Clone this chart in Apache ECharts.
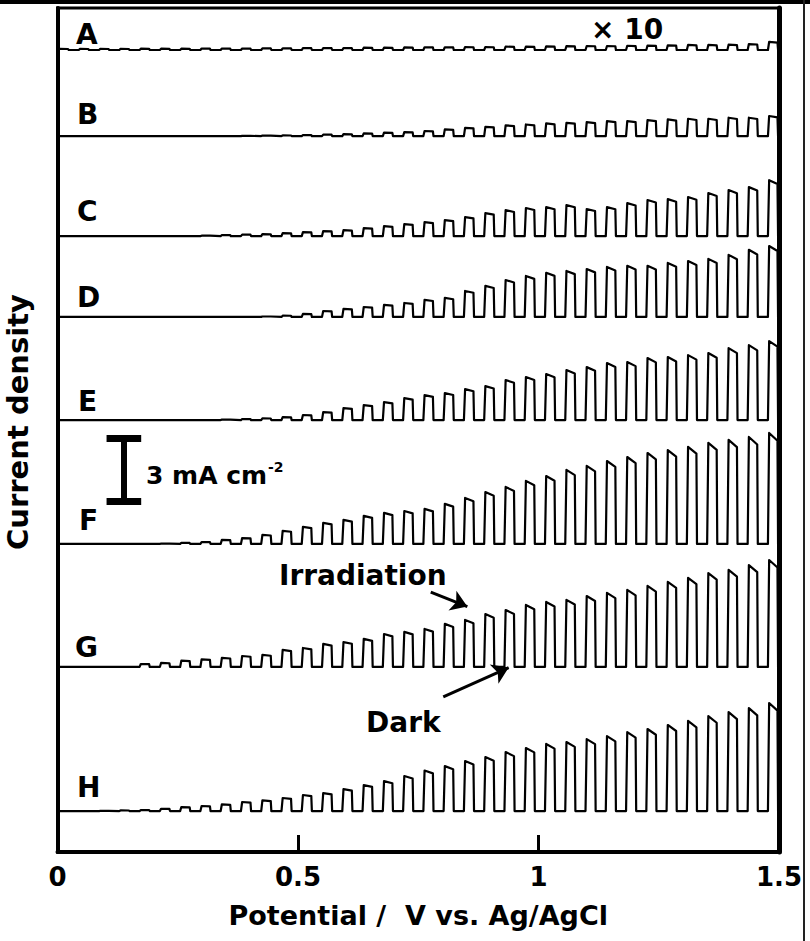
<!DOCTYPE html>
<html><head><meta charset="utf-8">
<script src="https://cdn.jsdelivr.net/npm/echarts@6.0.0/dist/echarts.min.js"></script>
<style>html,body{margin:0;padding:0;background:#fff}#c{width:810px;height:941px}</style>
</head><body><div id="c"></div>
<script>
// ===================== DATA =====================
const traceNames = ['A','B','C','D','E','F','G','H'];
const xTickLabels = ['0','0.5','1','1.5'];
const potentialMin = 0, potentialMax = 1.5;
// chopped light: one on/off cycle in volts, and the start of the last light-on step
const chopPeriodV = 0.04214;
const lastLightOnV = 1.477;
// photocurrent of each light pulse (mA cm-2), first pulse to last
const ampA = [0.005,0.005,0.005,0.005,0.006,0.006,0.006,0.007,0.007,0.007,0.008,0.008,0.009,0.009,0.009,0.011,0.011,0.012,0.013,0.013,0.014,0.014,0.016,0.016,0.017,0.018,0.019,0.019,0.020,0.021,0.022,0.024,0.024,0.025,0.028,0.038];
const ampB = [0,0,0,0,0,0,0,0,0,0.01,0.02,0.03,0.05,0.07,0.09,0.13,0.16,0.19,0.24,0.32,0.39,0.44,0.51,0.55,0.60,0.63,0.66,0.71,0.71,0.76,0.79,0.82,0.82,0.87,0.87,0.95];
const ampC = [0,0,0,0,0,0,0,0.02,0.05,0.07,0.09,0.14,0.19,0.24,0.28,0.38,0.47,0.57,0.66,0.76,0.90,1.09,1.23,1.33,1.37,1.47,1.28,1.37,1.56,1.71,1.75,1.85,2.04,2.18,2.32,2.65];
const ampD = [0,0,0,0,0,0,0,0,0,0,0.02,0.06,0.14,0.28,0.38,0.47,0.57,0.66,0.81,0.90,1.23,1.47,1.75,1.94,2.09,2.18,2.27,2.37,2.42,2.42,2.56,2.65,2.75,2.94,3.18,3.36];
const ampE = [0,0,0,0,0,0,0,0,0.02,0.05,0.08,0.14,0.24,0.38,0.57,0.71,0.85,1.04,1.18,1.28,1.47,1.61,1.90,2.04,2.18,2.37,2.51,2.70,2.75,2.94,2.99,3.08,3.18,3.41,3.55,3.74];
const ampF = [0,0,0,0,0,0.02,0.05,0.09,0.19,0.28,0.43,0.62,0.81,1.00,1.14,1.33,1.47,1.56,1.66,1.90,2.18,2.46,2.70,2.99,3.22,3.51,3.70,3.93,4.12,4.31,4.45,4.60,4.79,4.93,5.07,5.26];
const ampG = [0,0,0,0,0.14,0.19,0.30,0.36,0.43,0.52,0.57,0.81,0.90,1.09,1.18,1.33,1.56,1.66,1.80,2.04,2.23,2.51,2.70,2.94,3.08,3.18,3.36,3.51,3.65,3.84,4.03,4.22,4.45,4.60,4.83,5.07];
const ampH = [0,0,0.01,0.03,0.05,0.11,0.19,0.24,0.32,0.43,0.51,0.62,0.76,0.85,1.04,1.23,1.42,1.66,1.92,2.13,2.37,2.56,2.80,2.99,3.18,3.27,3.41,3.55,3.74,3.89,4.08,4.27,4.50,4.69,4.88,5.12];
const traceMagnification = [10,1,1,1,1,1,1,1]; // trace A shown x10
const scaleBarValue = 3; // mA cm-2

// ===================== LAYOUT / STYLE =====================
const allAmps = [ampA,ampB,ampC,ampD,ampE,ampF,ampG,ampH];
const traceOffsets = [38.01,33.93,29.19,25.36,20.47,14.60,8.77,1.94]; // vertical stacking (mA cm-2)
const yRange = [0, 40];
const FONT = '"DejaVu Sans", sans-serif';
const topDecay = 0.93;
const riseV = 0.0025, fallV = 0.0012;

function buildTrace(amps, offset, mag) {
  const pts = [[potentialMin, offset]];
  const n = amps.length, half = chopPeriodV / 2;
  for (let k = 0; k < n; k++) {
    const on = lastLightOnV - (n - 1 - k) * chopPeriodV;
    const a = amps[k] * mag;
    pts.push([on, offset]);
    pts.push([on + riseV, offset + a]);
    pts.push([on + half - fallV, offset + a * topDecay]);
    pts.push([on + half, offset]);
  }
  pts.push([potentialMax + 0.01, offset]);
  return pts;
}

const series = traceNames.map((nm, i) => ({
  name: nm, type: 'line', showSymbol: false, symbol: 'none', animation: false,
  data: buildTrace(allAmps[i], traceOffsets[i], traceMagnification[i]),
  lineStyle: { color: '#000', width: 2.2, cap: 'round', join: 'round' },
  clip: true, z: 3
}));

// scale bar drawn in data units
const sbX = 0.138, sbY0 = 16.63, sbHalfW = 0.036;
series.push({
  type: 'lines', coordinateSystem: 'cartesian2d', animation: false, z: 4,
  polyline: false,
  data: [
    { coords: [[sbX, sbY0], [sbX, sbY0 + scaleBarValue]], lineStyle: { width: 6 } },
    { coords: [[sbX - sbHalfW, sbY0], [sbX + sbHalfW, sbY0]], lineStyle: { width: 7 } },
    { coords: [[sbX - sbHalfW, sbY0 + scaleBarValue], [sbX + sbHalfW, sbY0 + scaleBarValue]], lineStyle: { width: 7 } }
  ],
  lineStyle: { color: '#000', opacity: 1 }
});
// annotation arrows
series.push({
  type: 'lines', coordinateSystem: 'cartesian2d', animation: false, z: 4,
  symbol: ['none', 'arrow'], symbolSize: 16,
  data: [
    { coords: [[0.776, 12.32], [0.852, 11.63]] },
    { coords: [[0.802, 7.35], [0.938, 8.74]] }
  ],
  lineStyle: { color: '#000', width: 3, opacity: 1 }
});

function txt(text, x, yCapCenter, size, extra) {
  return Object.assign({
    type: 'text', x: x, y: yCapCenter + 2, z: 10,
    style: { text: text, fill: '#000', fontSize: size, fontWeight: 'bold', fontFamily: FONT, verticalAlign: 'middle', align: 'left' }
  }, extra || {});
}
const letterPos = [[76,32],[77,112],[77,209.5],[77,295.5],[78,399],[79,518],[75,645],[77,785]];
const graphics = traceNames.map((nm, i) => txt(nm, letterPos[i][0], letterPos[i][1], 28));
graphics.push(txt('× 10', 591, 27.5, 28));
graphics.push(txt('3 mA cm', 146, 473, 25));
graphics.push(txt('-2', 268, 465, 14));
graphics.push(txt('Irradiation', 279, 573, 28));
graphics.push(txt('Dark', 366, 720, 28));
graphics.push({
  type: 'text', x: 18, y: 422, rotation: Math.PI / 2, z: 10,
  style: { text: 'Current density', fill: '#000', fontSize: 29, fontWeight: 'bold', fontFamily: FONT, align: 'center', verticalAlign: 'middle' }
});
graphics.push({ type: 'rect', shape: { x: 0, y: 0, width: 810, height: 4 }, style: { fill: '#000' }, z: 10 });
graphics.push({ type: 'rect', shape: { x: 803, y: 0, width: 2, height: 941 }, style: { fill: '#222' }, z: 10 });

const option = {
  backgroundColor: '#fff',
  animation: false,
  grid: { left: 57.5, right: 31, top: 8, bottom: 89, show: true, borderColor: '#000', borderWidth: 3, backgroundColor: 'transparent' },
  xAxis: {
    type: 'value', min: potentialMin, max: potentialMax, interval: 0.5,
    axisLine: { show: true, lineStyle: { color: '#000', width: 4 } },
    axisTick: { show: true, inside: true, length: 17, lineStyle: { color: '#000', width: 3 } },
    axisLabel: { color: '#000', fontSize: 26, fontWeight: 'bold', fontFamily: FONT, margin: 12,
      formatter: (v) => { const i = Math.round(v / 0.5); return xTickLabels[i] !== undefined ? xTickLabels[i] : ''; } },
    splitLine: { show: false },
    name: 'Potential /  V vs. Ag/AgCl', nameLocation: 'middle', nameGap: 50,
    nameTextStyle: { color: '#000', fontSize: 27, fontWeight: 'bold', fontFamily: FONT }
  },
  yAxis: [{
    type: 'value', min: yRange[0], max: yRange[1],
    axisLine: { show: true, lineStyle: { color: '#000', width: 4 } },
    axisTick: { show: false }, axisLabel: { show: false }, splitLine: { show: false }
  }, {
    type: 'value', min: yRange[0], max: yRange[1], position: 'right',
    axisLine: { show: true, lineStyle: { color: '#000', width: 5 } },
    axisTick: { show: false }, axisLabel: { show: false }, splitLine: { show: false }
  }],
  series: series,
  graphic: graphics
};
const chart = echarts.init(document.getElementById('c'), null, { renderer: 'svg' });
chart.setOption(option);
</script>
</body></html>
